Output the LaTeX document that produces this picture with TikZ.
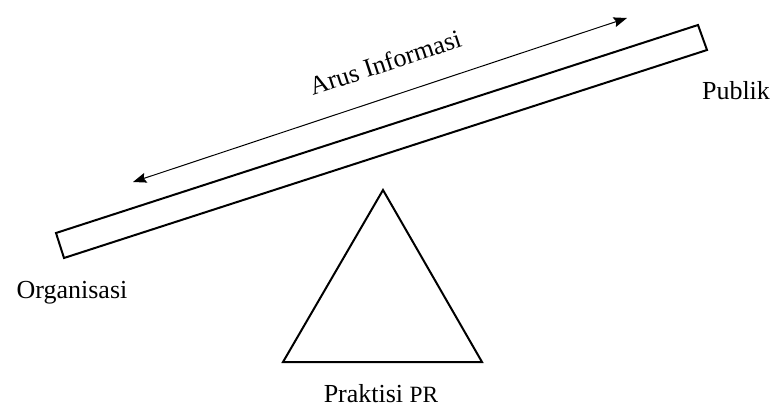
\documentclass[tikz,border=0pt]{standalone}
\usepackage{fontspec}
\setmainfont{Liberation Serif}
\usetikzlibrary{arrows.meta, positioning, calc}

\begin{document}
\begin{tikzpicture}[x=0.75pt, y=-0.75pt, >=Stealth,
    every node/.style={font=\fontsize{19.5}{23}\selectfont},
    plank/.style={line width=1.5pt, line join=miter},
    flow/.style={<->, line width=0.75pt, >={Stealth[length=10pt, width=7.5pt, inset=1.5pt]}}]
  \useasboundingbox (0,0) rectangle (773,406);

  % Beam
  \coordinate (bl) at (56,233);
  \coordinate (br) at (698,25);
  \draw[plank] (bl) -- (br) -- ++(9,25) -- ($(bl)+(8,25)$) -- cycle;

  % Fulcrum
  \draw[plank] (383,190) -- (482,362) -- (283,362) -- cycle;

  % Arrow
  \coordinate (fl) at (133,182);
  \coordinate (fr) at (627,18);
  \draw[flow] (fl) -- (fr);
  \node[anchor=base, rotate=18.2] (arus) at (388,71) {Arus Informasi};

  % Labels
  \node[anchor=base] (org) at (72,298) {Organisasi};
  \node[anchor=base] (pub) at (736,100) {Publik};
  \node[anchor=base] (prak) at (381,402) {Praktisi {\fontsize{17.5}{20}\selectfont PR}};
\end{tikzpicture}
\end{document}
